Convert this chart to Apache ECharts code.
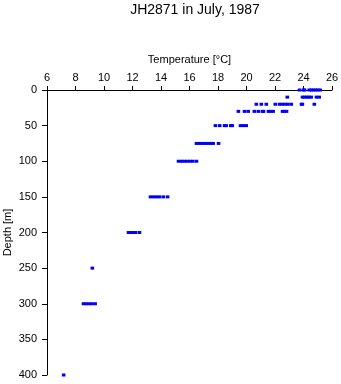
<!DOCTYPE html>
<html>
<head>
<meta charset="utf-8">
<script src="https://cdn.jsdelivr.net/npm/echarts@6/dist/echarts.min.js"></script>
<style>html,body{margin:0;padding:0;background:#fff}#c{width:341px;height:384px}</style>
</head>
<body>
<div id="c"></div>
<script>
// Depth levels [m] and temperatures [°C] read at each level
var depths = [0, 10, 20, 30, 50, 75, 100, 150, 200, 250, 300, 400];
var t0   = [23.72, 24.0, 24.07, 24.4, 24.55, 24.7, 24.85, 25.0, 25.17];
var t10  = [22.86, 23.93, 24.08, 24.23, 24.38, 24.54, 24.91, 25.1];
var t20  = [20.69, 21.04, 21.39, 22.02, 22.32, 22.5, 22.7, 22.9, 23.14, 23.86, 23.92, 24.76];
var t30  = [19.43, 19.86, 20.12, 20.55, 20.83, 21.12, 21.19, 21.54, 21.7, 21.87, 22.53, 22.67, 22.81];
var t50  = [17.82, 18.12, 18.46, 18.58, 18.9, 19.0, 19.58, 19.78, 19.98];
var t75  = [16.49, 16.7, 16.9, 17.1, 17.3, 17.5, 17.66, 18.04];
var t100 = [15.23, 15.43, 15.63, 15.83, 16.03, 16.23, 16.49];
var t150 = [13.26, 13.47, 13.68, 13.89, 14.16, 14.46];
var t200 = [11.72, 11.9, 12.05, 12.21, 12.49];
var t250 = [9.18];
var t300 = [8.56, 8.76, 8.96, 9.16, 9.38];
var t400 = [7.17];
var tempsByDepth = [t0, t10, t20, t30, t50, t75, t100, t150, t200, t250, t300, t400];

var xTicks = [6, 8, 10, 12, 14, 16, 18, 20, 22, 24, 26];
var yTicks = [0, 50, 100, 150, 200, 250, 300, 350, 400];

var pts = [];
depths.forEach(function (d, i) {
  tempsByDepth[i].forEach(function (t) { pts.push([t, d]); });
});

var font = 'Liberation Sans, Arial, Helvetica, sans-serif';
var chart = echarts.init(document.getElementById('c'), null, {renderer: 'canvas'});
chart.setOption({
  animation: false,
  backgroundColor: '#fff',
  title: {
    text: 'JH2871 in July, 1987',
    left: 190, top: -2, textAlign: 'center',
    textStyle: {fontFamily: font, fontSize: 14, fontWeight: 'normal', color: '#000'}
  },
  grid: {left: 47, right: 9, top: 90, bottom: 9, containLabel: false, outerBoundsMode: 'none'},
  xAxis: {
    type: 'value', position: 'top',
    min: xTicks[0], max: xTicks[xTicks.length - 1], interval: 2,
    name: 'Temperature [°C]', nameLocation: 'middle', nameGap: 25, nameMoveOverlap: false,
    nameTextStyle: {fontFamily: font, fontSize: 11, color: '#000'},
    axisLine: {show: true, onZero: false, lineStyle: {color: '#000', width: 1}},
    axisTick: {show: true, length: 4, lineStyle: {color: '#000'}},
    axisLabel: {fontFamily: font, fontSize: 11, color: '#000', margin: 7},
    splitLine: {show: false}
  },
  yAxis: {
    type: 'value', inverse: true,
    min: yTicks[0], max: yTicks[yTicks.length - 1], interval: 50,
    name: 'Depth [m]', nameLocation: 'middle', nameGap: 34, nameRotate: 90, nameMoveOverlap: false,
    nameTextStyle: {fontFamily: font, fontSize: 11, color: '#000'},
    axisLine: {show: true, onZero: false, lineStyle: {color: '#000', width: 1}},
    axisTick: {show: true, length: 5, lineStyle: {color: '#000'}},
    axisLabel: {fontFamily: font, fontSize: 11, color: '#000', margin: 10},
    splitLine: {show: false}
  },
  series: [{
    type: 'scatter',
    data: pts,
    symbol: 'rect',
    symbolSize: [3.6, 3],
    itemStyle: {color: '#0000ff', opacity: 1},
    clip: false
  }]
});
</script>
</body>
</html>
